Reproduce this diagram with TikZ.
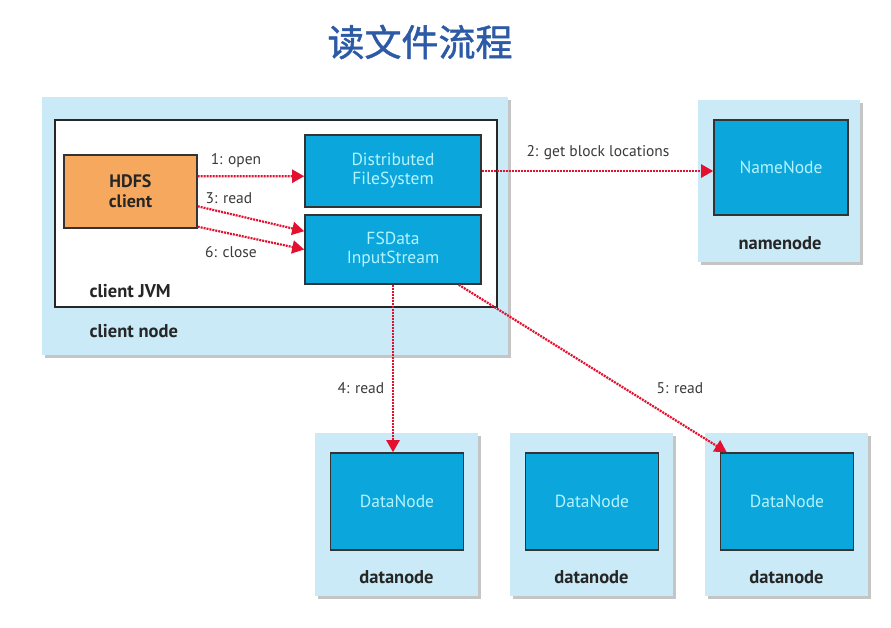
\documentclass[tikz,border=0pt]{standalone}
\usepackage{fontspec}
\setmainfont{PT Sans}
\newfontfamily\cjk[AutoFakeBold=1.2]{Noto Sans CJK SC}
\usetikzlibrary{arrows.meta,shadows,calc}
\definecolor{paleblue}{HTML}{C9EAF6}
\definecolor{boxblue}{HTML}{0BA6DC}
\definecolor{boxtext}{HTML}{B4F4FF}
\definecolor{hdfsorange}{HTML}{F6A95E}
\definecolor{arrowred}{HTML}{E3102F}
\definecolor{titleblue}{HTML}{2C5AA6}
\definecolor{labelgray}{HTML}{3A3A3A}
\tikzset{
  outerbox/.style={fill=paleblue, draw=none, drop shadow={shadow xshift=2.5pt, shadow yshift=-2.5pt, opacity=0.45, fill=gray}},
  jvmbox/.style={fill=white, draw=black!85, line width=1.6pt},
  bluebox/.style={fill=boxblue, draw=black!80, line width=1.6pt, text=boxtext, font=\fontsize{17.5}{19}\selectfont, align=center},
  orangebox/.style={fill=hdfsorange, draw=black!80, line width=1.4pt, font=\bfseries\fontsize{18}{20}\selectfont, text=black!85, align=center},
  boldlabel/.style={font=\bfseries\fontsize{18.5}{20}\selectfont, text=black!85},
  steplabel/.style={font=\fontsize{15.5}{17}\selectfont, text=labelgray},
  flow/.style={draw=arrowred, line width=2.2pt, dash pattern=on 2pt off 1pt, -{Triangle[width=13pt,length=12pt,fill=arrowred]}},
}
\begin{document}
\begin{tikzpicture}[x=1pt,y=-1pt]
\useasboundingbox[fill=white] (0,0) rectangle (891,627);
% title
\node (title) at (420,42) {\cjk\bfseries\fontsize{37}{40}\selectfont\color{titleblue}读文件流程};
% client node
\node[outerbox, minimum width=466pt, minimum height=258pt] (cnode) at (275,226) {};
\node[jvmbox, minimum width=442pt, minimum height=187pt] (jvm) at (276,213.5) {};
\node[orangebox, minimum width=133pt, minimum height=73pt] (hdfs) at (130.5,191.5) {HDFS\\client};
\node[bluebox, minimum width=176pt, minimum height=72pt] (dfs) at (393,171) {Distributed\\FileSystem};
\node[bluebox, minimum width=176pt, minimum height=69pt] (fsd) at (393,249.5) {FSData\\InputStream};
\node[boldlabel, anchor=west] (jvmlab) at (86,291) {client JVM};
\node[boldlabel, anchor=west] (cnodelab) at (86,331) {client node};
% namenode
\node[outerbox, minimum width=162pt, minimum height=162pt] (nn) at (779,181) {};
\node[bluebox, minimum width=134pt, minimum height=95pt] (nnin) at (781,167.5) {NameNode};
\node[boldlabel] (nnlab) at (780,243) {namenode};
% datanodes
\foreach \i/\cx in {1/396.5,2/591.5,3/786.5}{
  \node[outerbox, minimum width=163pt, minimum height=163pt] (dn\i) at (\cx,514.5) {};
  \node[bluebox, minimum width=133pt, minimum height=97pt] (dn\i in) at (\cx+0.5,501.5) {DataNode};
  \node[boldlabel] (dn\i lab) at (\cx,577) {datanode};
}
% arrows
\draw[flow] ($(hdfs.north east)+(0,22)$) -- ($(dfs.north west)+(0,42)$);
\draw[flow] ($(hdfs.north east)+(0,52)$) -- ($(fsd.north west)+(0,17)$);
\draw[flow] ($(hdfs.south east)+(0,-2)$) -- (fsd.west);
\draw[flow] (dfs.east) -- (nnin.west |- dfs.east);
\draw[flow] (fsd.south) -- (fsd.south |- dn1in.north);
\draw[flow] ($(fsd.south east)+(-23,0)$) -- ($(dn3in.north west)+(7,0)$);
% step labels
\node[steplabel] (l1) at (236,161) {1: open};
\node[steplabel] (l3) at (229,198) {3: read};
\node[steplabel] (l6) at (231,252) {6: close};
\node[steplabel] (l2) at (598,153) {2: get block locations};
\node[steplabel] (l4) at (361,388) {4: read};
\node[steplabel] (l5) at (680,388) {5: read};
\end{tikzpicture}
\end{document}
